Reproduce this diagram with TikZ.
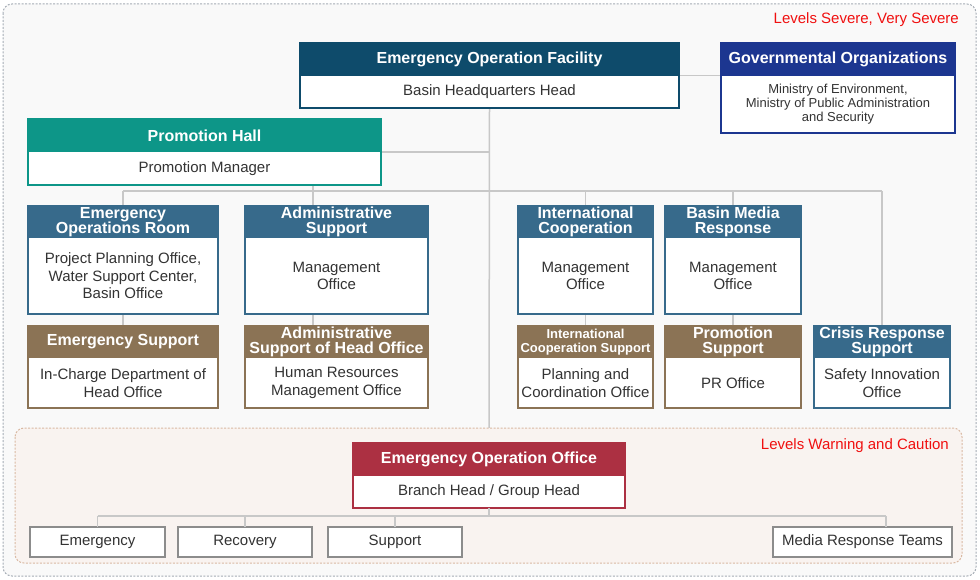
\documentclass[tikz,border=0pt]{standalone}
\usepackage{fontspec}
\setmainfont{Liberation Sans}
\definecolor{facblue}{HTML}{0E4B6B}
\definecolor{govblue}{HTML}{1C3690}
\definecolor{teal}{HTML}{0D9688}
\definecolor{topblue}{HTML}{376A8B}
\definecolor{brown}{HTML}{8B7355}
\definecolor{eored}{HTML}{AC3042}
\definecolor{txtgray}{HTML}{333333}
\definecolor{conngray}{HTML}{C8C8C8}
\definecolor{leafgray}{HTML}{8C8C8C}
\definecolor{outerfill}{HTML}{F9F9F9}
\definecolor{outerline}{HTML}{A4ACB4}
\definecolor{innerfill}{HTML}{F9F3F0}
\definecolor{innerline}{HTML}{D9B9A3}
\definecolor{lvlred}{HTML}{F01010}
\pgfdeclarelayer{bg}\pgfdeclarelayer{conn}\pgfdeclarelayer{inner}
\pgfsetlayers{bg,conn,inner,main}
\tikzset{
  boxframe/.style={draw, fill=white, line width=2pt, inner sep=0pt, outer sep=0pt},
  hdrfill/.style={inner sep=0pt, outer sep=0pt, text=white, align=center,
    font=\bfseries\fontsize{16}{15}\selectfont},
  bodytext/.style={inner sep=0pt, text=txtgray, align=center,
    font=\fontsize{15}{17.5}\selectfont},
  hx/.style={}, bx/.style={},
  conn/.style={draw=conngray, line width=1.5pt},
  leaf/.style={draw=leafgray, line width=2pt, fill=white, inner sep=0pt, outer sep=0pt,
    minimum height=30pt, text=txtgray, font=\fontsize{15}{17}\selectfont},
  lvl/.style={text=lvlred, font=\fontsize{15}{17}\selectfont, inner sep=0pt, anchor=east}
}
% name, colour, x1, y1, x2, y2, header bottom, header text, body text
\newcommand\orgbox[9]{%
  \node[boxframe, draw=#2, minimum width={#5-#3}, minimum height={#6-#4}] (#1) at ({(#3+#5)/2},{(#4+#6)/2}) {};
  \node[hdrfill, hx, fill=#2, minimum width={#5-#3}, minimum height={#7-#4}] (#1h) at ({(#3+#5)/2},{(#4+#7)/2}) {#8};
  \node[bodytext, bx] (#1b) at ({(#3+#5)/2},{(#7+#6)/2}) {#9};
}
\begin{document}
\begin{tikzpicture}[x=1pt,y=-1pt]
\useasboundingbox (0,0) rectangle (980,580);
\begin{pgfonlayer}{bg}
\draw[draw=outerline, fill=outerfill, line width=1pt, dash pattern=on 2pt off 1.5pt, rounded corners=9pt] (3,4) rectangle (976,576);
\end{pgfonlayer}
\begin{pgfonlayer}{inner}
\draw[draw=innerline, fill=innerfill, line width=1pt, dash pattern=on 2pt off 1.5pt, rounded corners=9pt] (15,428) rectangle (962,563);
\end{pgfonlayer}

\node[lvl] (lv1) at (959,20) {Levels Severe, Very Severe};
\node[lvl] (lv2) at (949,446) {Levels Warning and Caution};

\orgbox{fac}{facblue}{300}{43}{679}{108}{76}{Emergency Operation Facility}{Basin Headquarters Head}
\begin{scope}[bx/.style={font=\fontsize{13}{14}\selectfont}]
\orgbox{gov}{govblue}{721}{43}{955}{133}{76}{Governmental Organizations}{Ministry of Environment,\\Ministry of Public Administration\\and Security}
\end{scope}
\orgbox{ph}{teal}{28}{119}{381}{185}{152}{Promotion Hall}{Promotion Manager}

\orgbox{eor}{topblue}{28}{206}{218}{314}{238}{Emergency\\Operations Room}{Project Planning Office,\\Water Support Center,\\Basin Office}
\orgbox{adm}{topblue}{245}{206}{428}{314}{238}{Administrative\\Support}{Management\\Office}
\orgbox{intl}{topblue}{518}{206}{653}{314}{238}{International\\Cooperation}{Management\\Office}
\orgbox{bmr}{topblue}{665}{206}{801}{314}{238}{Basin Media\\Response}{Management\\Office}

\orgbox{es}{brown}{28}{326}{218}{408}{358}{Emergency Support}{In-Charge Department of\\Head Office}
\orgbox{ash}{brown}{245}{326}{428}{408}{358}{Administrative\\Support of Head Office}{Human Resources\\Management Office}
\begin{scope}[hx/.style={font=\bfseries\fontsize{13}{14.5}\selectfont}]
\orgbox{ics}{brown}{518}{326}{653}{408}{358}{International\\Cooperation Support}{Planning and\\Coordination Office}
\end{scope}
\orgbox{ps}{brown}{665}{326}{801}{408}{358}{Promotion\\Support}{PR Office}
\orgbox{crs}{topblue}{814}{326}{950}{408}{358}{Crisis Response\\Support}{Safety Innovation\\Office}

\orgbox{eoo}{eored}{353}{443}{625}{508}{476}{Emergency Operation Office}{Branch Head / Group Head}

\node[leaf, minimum width=135pt] (emg) at (97.5,542) {Emergency};
\node[leaf, minimum width=134pt] (rec) at (245,542) {Recovery};
\node[leaf, minimum width=134pt] (sup) at (395,542) {Support};
\node[leaf, minimum width=179pt] (mrt) at (862.5,542) {Media Response Teams};

\coordinate (bus) at (0,191);
\coordinate (admtap) at (313,191);
\coordinate (bbus) at (0,516);
\coordinate (mrttap) at (886,516);

\begin{pgfonlayer}{conn}
\draw[conn] (fac.south) -- (eoo.north);
\draw[conn] (fac.east) -- (fac.east -| gov.west);
\draw[conn] (ph.east) -- (ph.east -| fac.south);
\draw[conn] (eor.north |- bus) -- (crs.north |- bus);
\draw[conn] (eor.north) -- (eor.north |- bus);
\draw[conn] (ph.south -| admtap) -- (adm.north -| admtap);
\draw[conn] (intl.north) -- (intl.north |- bus);
\draw[conn] (bmr.north) -- (bmr.north |- bus);
\draw[conn] (crs.north) -- (crs.north |- bus);
\draw[conn] (eor.south) -- (es.north);
\draw[conn] (adm.south -| admtap) -- (ash.north -| admtap);
\draw[conn] (intl.south) -- (ics.north);
\draw[conn] (bmr.south) -- (ps.north);
\end{pgfonlayer}

\draw[conn] (eoo.south) -- (eoo.south |- bbus);
\draw[conn] (emg.north |- bbus) -- (mrttap);
\draw[conn] (emg.north) -- (emg.north |- bbus);
\draw[conn] (rec.north) -- (rec.north |- bbus);
\draw[conn] (sup.north) -- (sup.north |- bbus);
\draw[conn] (mrt.north -| mrttap) -- (mrttap);
\end{tikzpicture}
\end{document}
